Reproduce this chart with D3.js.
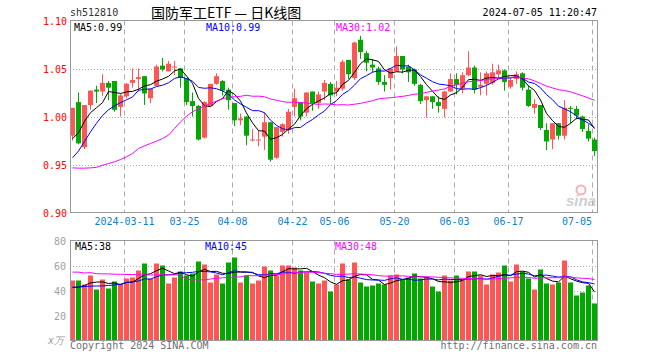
<!DOCTYPE html>
<html>
<head>
<meta charset="utf-8">
<script src="https://cdn.jsdelivr.net/npm/d3@7"></script>
<style>
  body { margin: 0; background: #fff; }
  svg text { font-family: "DejaVu Sans Mono", "Liberation Mono", monospace; font-size: 10px; }
</style>
</head>
<body>
<div id="chart-container"></div>
<script>
// trading days shown on the chart
const dates = [
  '2024-02-27','2024-02-28','2024-02-29',
  '2024-03-01','2024-03-04','2024-03-05','2024-03-06','2024-03-07','2024-03-08','2024-03-11','2024-03-12',
  '2024-03-13','2024-03-14','2024-03-15','2024-03-18','2024-03-19','2024-03-20','2024-03-21','2024-03-22',
  '2024-03-25','2024-03-26','2024-03-27','2024-03-28','2024-03-29',
  '2024-04-01','2024-04-02','2024-04-03','2024-04-08','2024-04-09','2024-04-10','2024-04-11','2024-04-12',
  '2024-04-15','2024-04-16','2024-04-17','2024-04-18','2024-04-19','2024-04-22','2024-04-23','2024-04-24',
  '2024-04-25','2024-04-26','2024-04-29','2024-04-30',
  '2024-05-06','2024-05-07','2024-05-08','2024-05-09','2024-05-10','2024-05-13','2024-05-14','2024-05-15',
  '2024-05-16','2024-05-17','2024-05-20','2024-05-21','2024-05-22','2024-05-23','2024-05-24','2024-05-27',
  '2024-05-28','2024-05-29','2024-05-30','2024-05-31',
  '2024-06-03','2024-06-04','2024-06-05','2024-06-06','2024-06-07','2024-06-11','2024-06-12','2024-06-13',
  '2024-06-14','2024-06-17','2024-06-18','2024-06-19','2024-06-20','2024-06-21','2024-06-24','2024-06-25',
  '2024-06-26','2024-06-27','2024-06-28',
  '2024-07-01','2024-07-02','2024-07-03','2024-07-04','2024-07-05'
];

const opens = [
  0.980, 1.015, 0.968, 1.012, 1.028, 1.026, 1.035, 1.037, 1.010, 1.021,
  1.035, 1.039, 1.042, 1.019, 1.032, 1.053, 1.047, 1.052, 1.050, 1.040,
  1.016, 1.011, 0.978, 1.011, 1.034, 1.037, 1.028, 1.014, 0.996, 1.000,
  0.976, 0.976, 0.979, 0.994, 0.957, 0.984, 0.986, 1.010, 1.015, 1.004,
  1.026, 1.014, 1.026, 1.034, 1.026, 1.029, 1.059, 1.040, 1.080, 1.066,
  1.054, 1.050, 1.036, 1.040, 1.047, 1.063, 1.052, 1.049, 1.033, 1.017,
  1.021, 1.015, 1.008, 1.026, 1.039, 1.029, 1.043, 1.051, 1.031, 1.034,
  1.035, 1.044, 1.048, 1.031, 1.039, 1.045, 1.028, 1.009, 1.012, 0.986,
  0.976, 0.993, 0.980, 1.009, 1.008, 1.000, 0.985, 0.976
];
const highs = [
  1.009, 1.025, 1.012, 1.027, 1.032, 1.044, 1.037, 1.037, 1.024, 1.035,
  1.050, 1.050, 1.042, 1.029, 1.054, 1.061, 1.058, 1.058, 1.050, 1.040,
  1.025, 1.012, 1.016, 1.034, 1.045, 1.038, 1.030, 1.014, 1.003, 1.000,
  0.987, 0.986, 1.004, 0.994, 0.989, 0.993, 1.008, 1.029, 1.015, 1.025,
  1.026, 1.026, 1.038, 1.036, 1.037, 1.059, 1.059, 1.078, 1.084, 1.068,
  1.060, 1.052, 1.043, 1.050, 1.073, 1.063, 1.054, 1.050, 1.034, 1.021,
  1.021, 1.021, 1.027, 1.045, 1.045, 1.046, 1.068, 1.053, 1.046, 1.047,
  1.055, 1.054, 1.049, 1.040, 1.047, 1.046, 1.032, 1.018, 1.012, 0.993,
  0.993, 0.993, 1.017, 1.011, 1.011, 1.001, 0.992, 0.978
];
const lows = [
  0.975, 0.971, 0.966, 1.007, 1.014, 1.021, 1.017, 1.005, 1.000, 1.019,
  1.030, 1.026, 1.012, 1.014, 1.032, 1.047, 1.047, 1.043, 1.030, 1.012,
  1.000, 0.975, 0.977, 1.011, 1.033, 1.022, 1.007, 0.990, 0.991, 0.970,
  0.974, 0.969, 0.965, 0.953, 0.956, 0.979, 0.982, 1.000, 0.996, 1.000,
  1.006, 1.008, 1.017, 1.013, 1.021, 1.027, 1.039, 1.038, 1.060, 1.047,
  1.046, 1.033, 1.026, 1.028, 1.047, 1.045, 1.036, 1.032, 1.013, 0.999,
  1.008, 1.004, 0.999, 1.026, 1.023, 1.024, 1.042, 1.024, 1.022, 1.022,
  1.033, 1.040, 1.027, 1.029, 1.034, 1.027, 1.010, 1.003, 0.986, 0.965,
  0.966, 0.976, 0.976, 0.993, 0.997, 0.984, 0.974, 0.959
];
const closes = [
  1.009, 0.972, 1.012, 1.027, 1.026, 1.035, 1.030, 1.007, 1.022, 1.034,
  1.038, 1.041, 1.024, 1.029, 1.052, 1.049, 1.055, 1.052, 1.040, 1.015,
  1.011, 0.976, 1.015, 1.034, 1.042, 1.027, 1.017, 0.996, 0.998, 0.980,
  0.976, 0.976, 0.994, 0.955, 0.989, 0.992, 1.005, 1.019, 1.000, 1.025,
  1.014, 1.023, 1.035, 1.022, 1.030, 1.057, 1.044, 1.077, 1.067, 1.056,
  1.051, 1.036, 1.033, 1.050, 1.063, 1.049, 1.046, 1.034, 1.016, 1.021,
  1.015, 1.011, 1.026, 1.039, 1.033, 1.043, 1.051, 1.028, 1.033, 1.045,
  1.046, 1.048, 1.036, 1.038, 1.044, 1.030, 1.011, 1.013, 0.988, 0.974,
  0.993, 0.980, 1.009, 1.008, 1.001, 0.987, 0.977, 0.964
];

// volume in 万手
const volumes = [
  48, 48, 44.8, 52, 40.8, 48.8, 41.6, 47.2, 44.8, 49.6,
  50.4, 56, 61.6, 49.6, 61.6, 60, 45.6, 50.4, 55.2, 52,
  53.6, 63.2, 60.8, 46.4, 52.8, 45.6, 62.4, 66.4, 46.4, 52,
  45.6, 48, 59.2, 56, 52, 60, 60, 58.4, 56, 54.4,
  47.2, 45.6, 48, 39.2, 44.8, 61.6, 48.8, 62.4, 46.4, 43.2,
  44, 45.6, 44.8, 52, 52.8, 48.8, 50.4, 53.6, 49.6, 50.4,
  43.2, 39.2, 52, 48, 52, 48.8, 55.2, 55.2, 52, 44.8,
  52.8, 54.4, 60, 47.2, 60.8, 55.2, 49.6, 40.8, 56.8, 45.6,
  44.8, 46.4, 64, 46.4, 36, 38.4, 44, 29.6
];

// moving-average values at the start of the window (earlier days are off the chart)
const ma5Lead = [0.977, 0.983, 0.995, 1.004];
const ma10Lead = [0.957, 0.964, 0.974, 0.984, 0.993, 1.001, 1.007, 1.011, 1.0145];
const ma30Lead = [
  0.9465, 0.9462, 0.9462, 0.9465, 0.947, 0.9493, 0.951, 0.9528, 0.9552, 0.958,
  0.9615, 0.9667, 0.9694, 0.9719, 0.9743, 0.977, 0.9806, 0.9875, 0.9944, 1.0003,
  1.0049, 1.008, 1.011, 1.0135, 1.016, 1.0185, 1.020, 1.0205, 1.021
];
const volMa5Lead = [42.4, 42.7, 44, 46.1];
const volMa10Lead = [42.7, 42.7, 43.2, 43.5, 43.6, 43.7, 44, 44.5, 45];
const volMa30Lead = [
  54.7, 54.7, 54.0, 54.3, 53.5, 53.3, 53.3, 53.0, 53.0, 52.8,
  52.8, 52.6, 52.5, 52.5, 52.5, 52.5, 52.5, 52.5, 52.3, 49.0,
  48.5, 48.5, 48.5, 49.2, 49.8, 50.2, 50.5, 50.8, 50.9
];

const priceTicks = [0.90, 0.95, 1.00, 1.05, 1.10];
const volTicks = [20, 40, 60, 80];
const tickDates = ['2024-03-11','2024-03-25','2024-04-08','2024-04-22','2024-05-06','2024-05-20','2024-06-03','2024-06-17','2024-07-05'];
const tickLabels = ['2024-03-11','03-25','04-08','04-22','05-06','05-20','06-03','06-17','07-05'];

const UP = '#ff5555', DOWN = '#00a800';

function movingAvg(values, n, lead) {
  return values.map((v, i) => i < n - 1 ? lead[i] : d3.mean(values.slice(i - n + 1, i + 1)));
}

drawChart();

function drawChart() {
  const W = 660, H = 360;
  const left = 70, right = 597;
  const price = { top: 20.5, bottom: 212.5 };
  const vol = { top: 240.5, bottom: 340.5 };

  const svg = d3.select('#chart-container')
    .append('svg')
    .attr('width', W)
    .attr('height', H);

  const x = d3.scaleBand()
    .domain(dates)
    .range([left, right])
    .paddingInner(1 / 6)
    .paddingOuter(0);
  const bw = x.bandwidth();
  const cx = d => x(d) + bw / 2;

  const y = d3.scaleLinear().domain([0.90, 1.10]).range([price.bottom, price.top]);
  const yv = d3.scaleLinear().domain([0, 80]).range([vol.bottom, vol.top]);

  const up = dates.map((d, i) => closes[i] >= opens[i]);

  // header
  svg.append('text').attr('x', 70).attr('y', 16).attr('fill', '#333').text('sh512810');
  svg.append('text').attr('x', 151).attr('y', 18)
    .style('font-family', '"Noto Sans CJK SC", sans-serif').style('font-size', '14px')
    .attr('fill', '#000').text('国防军工ETF — 日K线图');
  svg.append('text').attr('x', 597).attr('y', 16).attr('text-anchor', 'end')
    .attr('fill', '#000').text('2024-07-05 11:20:47');

  // grid: price panel
  svg.append('g').selectAll('line')
    .data([0.95, 1.00, 1.05])
    .enter().append('line')
    .attr('x1', left).attr('x2', right + 0.5)
    .attr('y1', d => Math.round(y(d)) + 0.5).attr('y2', d => Math.round(y(d)) + 0.5)
    .attr('stroke', '#aaa').attr('stroke-dasharray', '1,2');

  svg.append('g').selectAll('line')
    .data(volTicks.filter(v => v < 80))
    .enter().append('line')
    .attr('x1', left).attr('x2', right + 0.5)
    .attr('y1', d => Math.round(yv(d)) + 0.5).attr('y2', d => Math.round(yv(d)) + 0.5)
    .attr('stroke', '#aaa').attr('stroke-dasharray', '1,2');

  [price, vol].forEach(p => {
    svg.append('g').selectAll('line')
      .data(tickDates)
      .enter().append('line')
      .attr('x1', d => x(d) + 0.5).attr('x2', d => x(d) + 0.5)
      .attr('y1', p.top).attr('y2', p.bottom)
      .attr('stroke', '#aaa').attr('stroke-dasharray', '5,4');
  });

  // candles
  const candles = svg.append('g').attr('class', 'candles');
  candles.selectAll('.wick')
    .data(dates)
    .enter().append('line')
    .attr('class', 'wick')
    .attr('x1', d => Math.floor(cx(d)) + 0.5).attr('x2', d => Math.floor(cx(d)) + 0.5)
    .attr('y1', (d, i) => y(highs[i])).attr('y2', (d, i) => y(lows[i]))
    .attr('stroke', (d, i) => up[i] ? UP : DOWN);
  candles.selectAll('.body')
    .data(dates)
    .enter().append('rect')
    .attr('class', 'body')
    .attr('x', d => x(d))
    .attr('y', (d, i) => y(Math.max(opens[i], closes[i])))
    .attr('width', bw)
    .attr('height', (d, i) => Math.max(1, Math.abs(y(opens[i]) - y(closes[i]))))
    .attr('fill', (d, i) => up[i] ? UP : DOWN);

  // volume bars
  svg.append('g').selectAll('.vbar')
    .data(dates)
    .enter().append('rect')
    .attr('class', 'vbar')
    .attr('x', d => x(d))
    .attr('y', (d, i) => yv(volumes[i]))
    .attr('width', bw)
    .attr('height', (d, i) => yv(0) - yv(volumes[i]))
    .attr('fill', (d, i) => up[i] ? UP : DOWN);

  // moving averages
  const maSets = [
    { vals: movingAvg(closes, 5, ma5Lead), sc: y, color: '#000' },
    { vals: movingAvg(closes, 10, ma10Lead), sc: y, color: '#0000ff' },
    { vals: movingAvg(closes, 30, ma30Lead), sc: y, color: '#ff00ff' },
    { vals: movingAvg(volumes, 5, volMa5Lead), sc: yv, color: '#000' },
    { vals: movingAvg(volumes, 10, volMa10Lead), sc: yv, color: '#0000ff' },
    { vals: movingAvg(volumes, 30, volMa30Lead), sc: yv, color: '#ff00ff' }
  ];
  maSets.forEach(m => {
    const line = d3.line()
      .x((v, i) => cx(dates[i]))
      .y(v => m.sc(v));
    svg.append('path')
      .datum(m.vals)
      .attr('d', line)
      .attr('fill', 'none')
      .attr('stroke', m.color)
      .attr('stroke-width', 1);
  });

  // frames
  [price, vol].forEach(p => {
    svg.append('rect')
      .attr('x', left + 0.5).attr('y', p.top)
      .attr('width', right - left).attr('height', p.bottom - p.top)
      .attr('fill', 'none').attr('stroke', '#999');
  });

  // MA legends
  const legends = [
    { x: 74, y: 31, t: 'MA5:0.99', c: '#000' },
    { x: 206, y: 31, t: 'MA10:0.99', c: '#0000ff' },
    { x: 336, y: 31, t: 'MA30:1.02', c: '#ff00ff' },
    { x: 75, y: 250, t: 'MA5:38', c: '#000' },
    { x: 205, y: 250, t: 'MA10:45', c: '#0000ff' },
    { x: 335, y: 250, t: 'MA30:48', c: '#ff00ff' }
  ];
  svg.append('g').selectAll('text')
    .data(legends)
    .enter().append('text')
    .attr('x', d => d.x).attr('y', d => d.y)
    .attr('fill', d => d.c)
    .text(d => d.t);

  // y labels
  svg.append('g').selectAll('text')
    .data(priceTicks)
    .enter().append('text')
    .attr('x', 67).attr('y', d => y(d) + 4)
    .attr('text-anchor', 'end')
    .attr('fill', '#ff0000')
    .text(d => d.toFixed(2));

  svg.append('g').selectAll('text')
    .data(volTicks)
    .enter().append('text')
    .attr('x', 66).attr('y', d => yv(d) + 4)
    .attr('text-anchor', 'end')
    .attr('fill', '#a0a0a0')
    .text(d => d);

  svg.append('text').attr('x', 64).attr('y', 344).attr('text-anchor', 'end')
    .attr('fill', '#a0a0a0').style('font-style', 'italic').text('x万');

  // x labels
  svg.append('g').selectAll('text')
    .data(tickDates)
    .enter().append('text')
    .attr('x', (d, i) => i === tickDates.length - 1 ? x(d) : x(d) + 0.5)
    .attr('y', 225)
    .attr('text-anchor', (d, i) => i === tickDates.length - 1 ? 'end' : 'middle')
    .attr('fill', '#1080d0')
    .text((d, i) => tickLabels[i]);

  // sina mark
  const mark = svg.append('g').attr('opacity', 0.6);
  mark.append('circle').attr('cx', 581).attr('cy', 190).attr('r', 4.5)
    .attr('fill', 'none').attr('stroke', '#f08080').attr('stroke-width', 2);
  mark.append('text').attr('x', 566).attr('y', 206)
    .style('font-family', 'Liberation Sans, sans-serif').style('font-size', '15px')
    .style('font-style', 'italic').style('font-weight', 'bold')
    .attr('fill', '#b0b0b0').text('sina');

  // footer
  svg.append('text').attr('x', 70).attr('y', 349).attr('fill', '#707070').text('Copyright 2024 SINA.COM');
  svg.append('text').attr('x', 597).attr('y', 349).attr('text-anchor', 'end')
    .attr('fill', '#707070').text('http://finance.sina.com.cn');
}
</script>
</body>
</html>
